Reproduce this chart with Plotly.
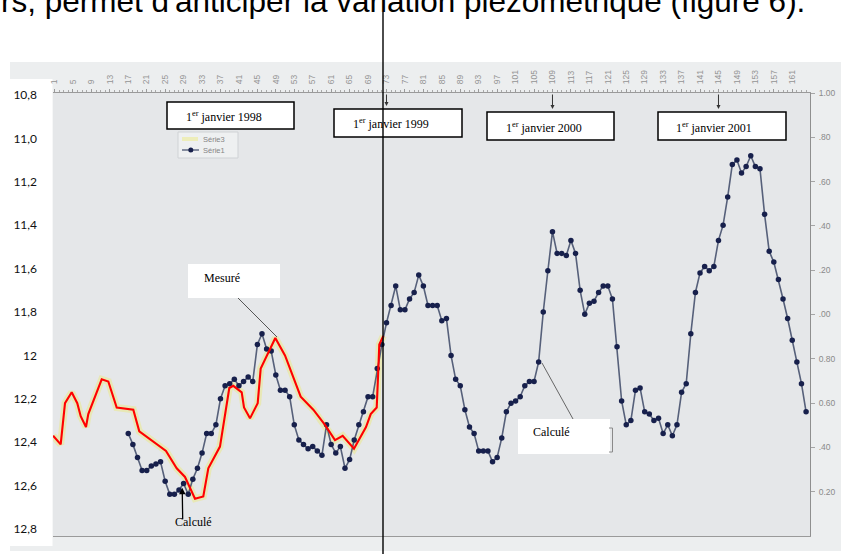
import plotly.graph_objects as go

# ---- Data -------------------------------------------------------------
# Decade index (10-day periods) on the top axis
top_ticks = list(range(1, 162, 4))
top_ticktext = [str(v) for v in top_ticks]

# Série1 : calculated piezometric level (m), one value per decade
calc_decade = list(range(17, 165))
calc_level = [
    12.36, 12.41, 12.47, 12.53, 12.53, 12.51, 12.50, 12.49, 12.58, 12.64,
    12.64, 12.62, 12.59, 12.64, 12.57, 12.52, 12.45, 12.36, 12.36, 12.32,
    12.20, 12.14, 12.13, 12.11, 12.14, 12.12, 12.10, 12.12, 11.95, 11.90,
    11.97, 11.98, 12.09, 12.16, 12.16, 12.19, 12.32, 12.39, 12.41, 12.43,
    12.42, 12.44, 12.46, 12.32, 12.41, 12.45, 12.42, 12.52, 12.48, 12.39,
    12.32, 12.26, 12.19, 12.19, 12.06, 11.95, 11.85, 11.77, 11.68, 11.79,
    11.79, 11.74, 11.71, 11.63, 11.68, 11.77, 11.77, 11.77, 11.84, 11.83,
    12.00, 12.11, 12.14, 12.25, 12.33, 12.36, 12.44, 12.44, 12.44, 12.49,
    12.47, 12.38, 12.26, 12.22, 12.21, 12.19, 12.14, 12.12, 12.12, 12.03,
    11.80, 11.61, 11.43, 11.53, 11.53, 11.54, 11.47, 11.53, 11.70, 11.81,
    11.76, 11.75, 11.71, 11.68, 11.68, 11.74, 11.96, 12.21, 12.32, 12.30,
    12.16, 12.15, 12.26, 12.27, 12.30, 12.29, 12.36, 12.32, 12.37, 12.32,
    12.17, 12.13, 11.90, 11.71, 11.62, 11.59, 11.61, 11.59, 11.47, 11.40,
    11.27, 11.12, 11.10, 11.16, 11.13, 11.08, 11.13, 11.14, 11.35, 11.52,
    11.57, 11.65, 11.74, 11.83, 11.93, 12.03, 12.13, 12.26,
]

# Série3 / measured level (m), traced by hand
meas_decade = [
    0.7, 2.34, 3.28, 4.73, 5.94, 6.68, 7.83, 8.33, 11.24, 12.67,
    14.49, 18.09, 19.39, 25.18, 27.50, 29.30, 31.47, 33.27, 34.36, 36.89,
    38.91, 39.78, 41.60, 42.10, 43.40, 45.07, 45.72, 48.89, 50.99, 52.44,
    54.39, 57.13, 59.66, 61.83, 63.50, 65.95, 68.56, 69.58, 70.88, 71.22,
    71.44, 72.31,
]
meas_level = [
    12.37, 12.41, 12.22, 12.17, 12.22, 12.28, 12.33, 12.27, 12.11, 12.12,
    12.24, 12.25, 12.35, 12.44, 12.52, 12.56, 12.66, 12.65, 12.52, 12.42,
    12.15, 12.14, 12.17, 12.24, 12.29, 12.22, 12.06, 11.92, 12.00, 12.08,
    12.19, 12.25, 12.32, 12.39, 12.37, 12.43, 12.33, 12.27, 12.24, 12.07,
    11.95, 11.91,
]

# Left axis (depth, m)
level_ticks = [10.8, 11.0, 11.2, 11.4, 11.6, 11.8, 12.0, 12.2, 12.4, 12.6, 12.8]
level_ticktext = ["10,8", "11,0", "11,2", "11,4", "11,6", "11,8", "12",
                  "12,2", "12,4", "12,6", "12,8"]

# Secondary (right) axis of the original spreadsheet chart
right_ticks = list(range(0, 10))
right_ticktext = ["1.00", ".80", ".60", ".40", ".20", ".00", "0.80", "0.60", ".40", "0.20"]

# Year markers (decade index of 1 January)
year_decades = [73, 109, 145]
year_labels = ["1<sup>er</sup> janvier 1998", "1<sup>er</sup> janvier 1999",
               "1<sup>er</sup> janvier 2000", "1<sup>er</sup> janvier 2001"]

series_names = ["Série3", "Série1"]

# ---- Geometry helpers (pixel -> paper) -------------------------------
W_FIG, H_FIG = 841, 554
L, R, T, B = 53, 31, 93, 18
PW, PH = W_FIG - L - R, H_FIG - T - B


def px(x):
    return (x - L) / PW


def py(y):
    return (T + PH - y) / PH


SERIF = "Liberation Serif, Times New Roman, serif"
SANS = "Liberation Sans, Arial, sans-serif"

YELLOW = "rgba(236,232,120,0.45)"
NAVY_LINE = "#56607a"
NAVY_MARK = "#17204c"

fig = go.Figure()

fig.add_trace(go.Scatter(
    x=meas_decade, y=meas_level, name=series_names[0], mode="lines",
    line=dict(color=YELLOW, width=7),
    hoverinfo="skip", showlegend=False,
))
fig.add_trace(go.Scatter(
    x=calc_decade, y=calc_level, name=series_names[1], mode="lines+markers",
    line=dict(color=NAVY_LINE, width=1.6),
    marker=dict(color=NAVY_MARK, size=5.5),
    showlegend=False,
))
fig.add_trace(go.Scatter(
    x=meas_decade, y=meas_level, name="Mesuré", mode="lines",
    line=dict(color="#ff0000", width=2.1),
    showlegend=False,
))
# keeps the right-hand axis alive
fig.add_trace(go.Scatter(x=[], y=[], yaxis="y2", showlegend=False))

shapes = []
# scanned chart background
shapes.append(dict(type="rect", xref="paper", yref="paper", layer="below",
                   x0=px(10), x1=px(841), y0=py(551), y1=py(62),
                   fillcolor="#eceeef", line=dict(width=0)))
# white column carrying the depth labels
shapes.append(dict(type="rect", xref="paper", yref="paper", layer="below",
                   x0=px(-2), x1=px(52.5), y0=py(546), y1=py(79),
                   fillcolor="#ffffff", line=dict(width=0)))
# plot area
shapes.append(dict(type="rect", xref="paper", yref="paper", layer="below",
                   x0=0, x1=1, y0=0, y1=1,
                   fillcolor="#e5e7e9", line=dict(width=0)))

# small legend box of the spreadsheet chart
shapes.append(dict(type="rect", xref="paper", yref="paper", layer="above",
                   x0=px(178), x1=px(238), y0=py(158), y1=py(132),
                   fillcolor="#eef0f1", line=dict(color="#cfd2d5", width=1)))
shapes.append(dict(type="line", xref="paper", yref="paper", layer="above",
                   x0=px(182), x1=px(198), y0=py(139), y1=py(139),
                   line=dict(color=YELLOW, width=4)))
shapes.append(dict(type="line", xref="paper", yref="paper", layer="above",
                   x0=px(182), x1=px(199), y0=py(150), y1=py(150),
                   line=dict(color=NAVY_LINE, width=1.4)))
shapes.append(dict(type="circle", xref="paper", yref="paper", layer="above",
                   x0=px(188.3), x1=px(193.3), y0=py(152.5), y1=py(147.5),
                   fillcolor=NAVY_MARK, line=dict(width=0)))

# date boxes
date_boxes = [(167, 294, 102, 129), (334, 462, 109, 137),
              (487, 614, 112, 140), (658, 786, 112, 140)]
for x0, x1, y0, y1 in date_boxes:
    shapes.append(dict(type="rect", xref="paper", yref="paper", layer="above",
                       x0=px(x0), x1=px(x1), y0=py(y1), y1=py(y0),
                       fillcolor="white", line=dict(color="black", width=1.5)))

# label boxes
for x0, x1, y0, y1 in [(188, 280, 264, 298), (518, 610, 419, 454)]:
    shapes.append(dict(type="rect", xref="paper", yref="paper", layer="above",
                       x0=px(x0), x1=px(x1), y0=py(y1), y1=py(y0),
                       fillcolor="white", line=dict(width=0)))

# leader lines
shapes.append(dict(type="line", xref="paper", yref="paper", layer="above",
                   x0=px(238), y0=py(298), x1=px(277), y1=py(337),
                   line=dict(color="#555555", width=1)))
shapes.append(dict(type="line", xref="paper", yref="paper", layer="above",
                   x0=px(542), y0=py(363), x1=px(573), y1=py(419),
                   line=dict(color="#666666", width=1)))
shapes.append(dict(type="path", xref="paper", yref="paper", layer="above",
                   path=f"M {px(609)} {py(428)} L {px(612.5)} {py(428)} "
                        f"L {px(612.5)} {py(452)} L {px(609)} {py(452)}",
                   line=dict(color="#8a8a8a", width=1)))

# vertical separation line
shapes.append(dict(type="line", xref="paper", yref="paper", layer="above",
                   x0=px(383), x1=px(383), y0=py(560), y1=py(12),
                   line=dict(color="black", width=1.4)))

annotations = []
# cut-off running text above the figure
annotations.append(dict(
    text="rs, permet d'anticiper la variation piézométrique (figure 6).",
    xref="paper", yref="paper", x=px(-1), y=py(20.5),
    xanchor="left", yanchor="bottom", showarrow=False,
    font=dict(family=SANS, size=31.5, color="black")))

# legend labels
for name, yy in zip(series_names, [139, 150]):
    annotations.append(dict(text=name, xref="paper", yref="paper",
                            x=px(201), y=py(yy), xanchor="left", yanchor="middle",
                            showarrow=False,
                            font=dict(family=SANS, size=7.5, color="#858585")))

date_centres = [(224, 116), (391, 124), (544, 127.5), (714, 127.5)]
for (cx, cy), label in zip(date_centres, year_labels):
    annotations.append(dict(text=label, xref="paper", yref="paper",
                            x=px(cx), y=py(cy), xanchor="center", yanchor="middle",
                            showarrow=False,
                            font=dict(family=SERIF, size=12, color="black")))

# arrows from the time axis to the date boxes
for d, head in zip(year_decades, [106, 109, 109]):
    annotations.append(dict(text="", xref="x", yref="paper", x=d, y=py(head),
                            ax=0, ay=-(head - 93), showarrow=True,
                            arrowhead=2, arrowsize=0.8, arrowwidth=1,
                            arrowcolor="#333333", standoff=0))

annotations.append(dict(text="Mesuré", xref="paper", yref="paper",
                        x=px(202), y=py(278), xanchor="left", yanchor="middle",
                        showarrow=False, font=dict(family=SERIF, size=12, color="black")))
annotations.append(dict(text="Calculé", xref="paper", yref="paper",
                        x=px(531), y=py(432), xanchor="left", yanchor="middle",
                        showarrow=False, font=dict(family=SERIF, size=12, color="black")))
annotations.append(dict(text="Calculé", xref="paper", yref="paper",
                        x=px(193), y=py(522), xanchor="center", yanchor="middle",
                        showarrow=False, font=dict(family=SERIF, size=12, color="black")))
annotations.append(dict(text="", xref="x", yref="y", x=28.7, y=12.61,
                        ax=0.5, ay=33, showarrow=True, arrowhead=2,
                        arrowsize=1, arrowwidth=1.3, arrowcolor="black", standoff=0))

fig.update_layout(
    width=W_FIG, height=H_FIG,
    margin=dict(l=L, r=R, t=T, b=B, autoexpand=False),
    paper_bgcolor="white", plot_bgcolor="#e5e7e9",
    shapes=shapes, annotations=annotations,
    showlegend=False,
    xaxis=dict(
        range=[0.675, 164.85], side="top",
        tickmode="array", tickvals=top_ticks, ticktext=top_ticktext,
        tickangle=-90, tickfont=dict(family=SANS, size=8.5, color="#949494"),
        ticks="outside", ticklen=3, tickcolor="#9a9a9a", ticklabelstandoff=3,
        minor=dict(tickmode="linear", tick0=1, dtick=1, ticks="outside",
                   ticklen=2, tickcolor="#a8a8a8"),
        showline=True, linecolor="#9a9a9a", linewidth=1, mirror=True,
        showgrid=False, zeroline=False,
    ),
    yaxis=dict(
        range=[12.832, 10.791],
        tickmode="array", tickvals=level_ticks, ticktext=level_ticktext,
        tickfont=dict(family="Lato, Liberation Sans, sans-serif", size=12, color="#111111"),
        ticks="", ticklabelstandoff=15,
        showline=False, showgrid=False, zeroline=False,
    ),
    yaxis2=dict(
        overlaying="y", side="right", range=[10, 0],
        tickmode="array", tickvals=right_ticks, ticktext=right_ticktext,
        tickfont=dict(family=SANS, size=8.5, color="#8a8a8a"),
        ticks="outside", ticklen=4, tickcolor="#a5a5a5", ticklabelstandoff=2,
        showline=True, linecolor="#8f8f8f", linewidth=1,
        showgrid=False, zeroline=False,
    ),
)

fig.write_html("out.html", config=dict(displayModeBar=False))
